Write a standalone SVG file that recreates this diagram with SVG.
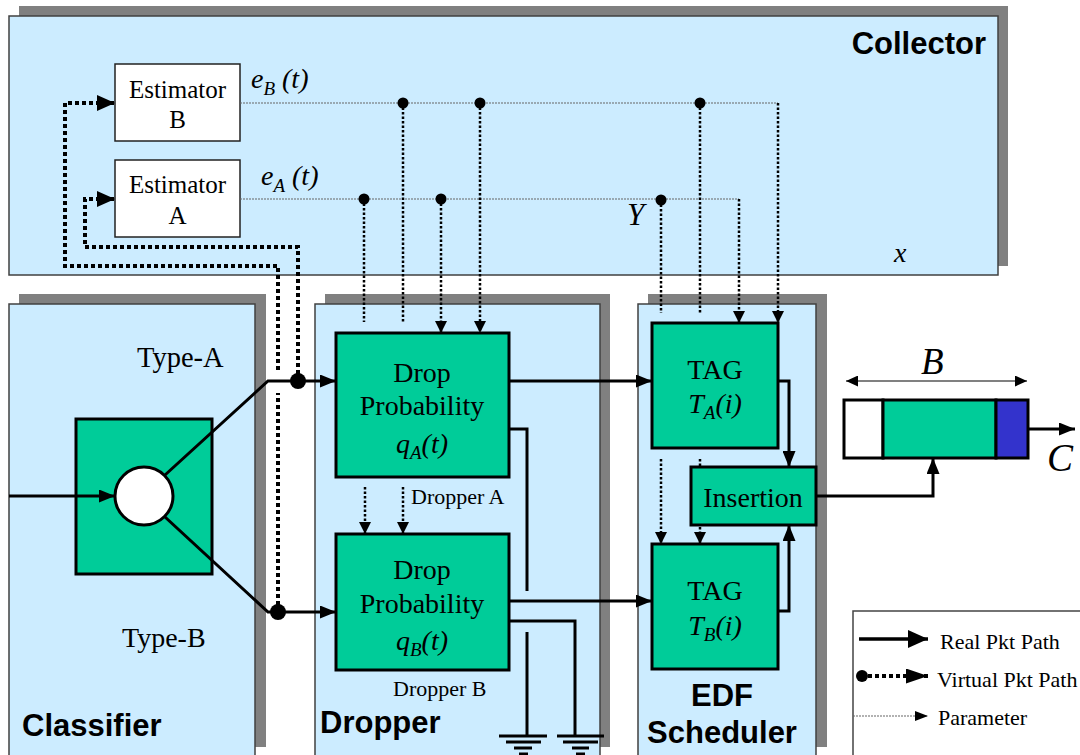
<svg xmlns="http://www.w3.org/2000/svg" width="1080" height="755" viewBox="0 0 1080 755">
<defs>
<style>
.shadow{fill:#808080}
.panel{fill:#CCECFF;stroke:#404040;stroke-width:1.5}
.green{fill:#00CC99;stroke:#000;stroke-width:3}
.est{fill:#fff;stroke:#222;stroke-width:1.5}
.serif{font-family:"Liberation Serif","Times New Roman",serif;fill:#000}
.it{font-style:italic}
.bold{font-family:"Liberation Sans",Arial,sans-serif;font-weight:bold;font-size:31px;fill:#000}
.real{fill:none;stroke:#000;stroke-width:3}
.virt{fill:none;stroke:#000;stroke-width:4;stroke-dasharray:4 3}
.parh{fill:none;stroke:#666;stroke-width:1.2;stroke-dasharray:2 1}
.parv{fill:none;stroke:#000;stroke-width:2.5;stroke-dasharray:2.5 2}
.gnd{stroke:#000;stroke-width:3}
.dot{fill:#000}
</style>
<marker id="aReal" markerUnits="userSpaceOnUse" markerWidth="16" markerHeight="13" refX="16" refY="6.5" orient="auto"><path d="M0,0 L16,6.5 L0,13 z" fill="#000"/></marker>
<marker id="aVirt" markerUnits="userSpaceOnUse" markerWidth="18" markerHeight="16" refX="18" refY="8" orient="auto"><path d="M0,0 L18,8 L0,16 z" fill="#000"/></marker>
<marker id="aPar" markerUnits="userSpaceOnUse" markerWidth="12" markerHeight="12" refX="12" refY="6" orient="auto"><path d="M0,0 L12,6 L0,12 z" fill="#000"/></marker>
<marker id="aB" markerUnits="userSpaceOnUse" markerWidth="12" markerHeight="11" refX="12" refY="5.5" orient="auto-start-reverse"><path d="M0,0 L12,5.5 L0,11 z" fill="#000"/></marker>
<marker id="aLegR" markerUnits="userSpaceOnUse" markerWidth="20" markerHeight="18" refX="20" refY="9" orient="auto"><path d="M0,0 L20,9 L0,18 z" fill="#000"/></marker>
<marker id="aLegV" markerUnits="userSpaceOnUse" markerWidth="22" markerHeight="15" refX="22" refY="7.5" orient="auto"><path d="M0,0 L22,7.5 L0,15 z" fill="#000"/></marker>
<marker id="aLegP" markerUnits="userSpaceOnUse" markerWidth="13" markerHeight="10" refX="13" refY="5" orient="auto"><path d="M0,0 L13,5 L0,10 z" fill="#000"/></marker>
</defs>
<rect width="1080" height="755" fill="#fff"/>

<g id="collector">
<rect class="shadow" x="19" y="6" width="989" height="260"/>
<rect class="panel" x="9" y="16" width="989" height="259"/>
<text class="bold" x="986" y="54" text-anchor="end">Collector</text>
</g>
<g id="classifier">
<rect class="shadow" x="19" y="294" width="247" height="453"/>
<rect class="panel" x="9" y="304" width="246" height="462"/>
<text class="bold" x="22" y="736">Classifier</text>
</g>
<g id="dropper">
<rect class="shadow" x="325" y="294" width="285" height="453"/>
<rect class="panel" x="315" y="304" width="285" height="462"/>
<text class="bold" x="320" y="733">Dropper</text>
</g>
<g id="edf-scheduler">
<rect class="shadow" x="648" y="294" width="179" height="453"/>
<rect class="panel" x="638" y="304" width="178" height="462"/>
<text class="bold" x="722" y="706" text-anchor="middle">EDF</text>
<text class="bold" x="722" y="743" text-anchor="middle">Scheduler</text>
</g>

<g id="estimator-b">
<rect class="est" x="115" y="64" width="125" height="77"/>
<text class="serif" font-size="25" x="177.5" y="97.5" text-anchor="middle">Estimator</text>
<text class="serif" font-size="25" x="177.5" y="128" text-anchor="middle">B</text>
</g>
<g id="estimator-a">
<rect class="est" x="115" y="160" width="125" height="77"/>
<text class="serif" font-size="25" x="177.5" y="193" text-anchor="middle">Estimator</text>
<text class="serif" font-size="25" x="177.5" y="224" text-anchor="middle">A</text>
</g>

<g id="classifier-switch">
<rect class="green" x="76" y="419" width="136" height="155"/>
<circle cx="144" cy="496" r="29" fill="#fff" stroke="#000" stroke-width="3"/>
</g>

<g id="drop-a">
<rect class="green" x="336" y="333" width="173" height="144"/>
<text class="serif" font-size="28" x="422" y="382" text-anchor="middle">Drop</text>
<text class="serif" font-size="28" x="422" y="415" text-anchor="middle">Probability</text>
<text class="serif it" font-size="28" x="422" y="453" text-anchor="middle">q<tspan font-size="19" dy="6">A</tspan><tspan dy="-6">(t)</tspan></text>
</g>
<g id="drop-b">
<rect class="green" x="336" y="534" width="173" height="136"/>
<text class="serif" font-size="28" x="422" y="579" text-anchor="middle">Drop</text>
<text class="serif" font-size="28" x="422" y="613" text-anchor="middle">Probability</text>
<text class="serif it" font-size="28" x="422" y="650" text-anchor="middle">q<tspan font-size="19" dy="6">B</tspan><tspan dy="-6">(t)</tspan></text>
</g>
<g id="tag-a">
<rect class="green" x="652" y="323" width="126" height="125"/>
<text class="serif" font-size="28" x="715" y="379" text-anchor="middle">TAG</text>
<text class="serif it" font-size="28" x="715" y="413" text-anchor="middle">T<tspan font-size="19" dy="6">A</tspan><tspan dy="-6">(i)</tspan></text>
</g>
<g id="insertion">
<rect class="green" x="691" y="467" width="125" height="58"/>
<text class="serif" font-size="28" x="753" y="507" text-anchor="middle">Insertion</text>
</g>
<g id="tag-b">
<rect class="green" x="652" y="544" width="126" height="125"/>
<text class="serif" font-size="28" x="715" y="600" text-anchor="middle">TAG</text>
<text class="serif it" font-size="28" x="715" y="635" text-anchor="middle">T<tspan font-size="19" dy="6">B</tspan><tspan dy="-6">(i)</tspan></text>
</g>
<g id="queue">
<rect x="844" y="400" width="39" height="58" fill="#fff" stroke="#000" stroke-width="3"/>
<rect x="883" y="400" width="113" height="58" fill="#00CC99" stroke="#000" stroke-width="3"/>
<rect x="996" y="400" width="32" height="58" fill="#3333CC" stroke="#000" stroke-width="3"/>
</g>

<g id="labels">
<text class="serif" font-size="28.5" x="137" y="367">Type-A</text>
<text class="serif" font-size="28" x="122" y="647">Type-B</text>
<text class="serif" font-size="22" x="411" y="504">Dropper A</text>
<text class="serif" font-size="22" x="393" y="696">Dropper B</text>
<text class="serif it" font-size="28" x="251" y="88">e<tspan font-size="19" dy="7">B</tspan><tspan dy="-7"> (t)</tspan></text>
<text class="serif it" font-size="28" x="261" y="185">e<tspan font-size="19" dy="7">A</tspan><tspan dy="-7"> (t)</tspan></text>
<text class="serif it" font-size="31" x="627" y="225">Y</text>
<text class="serif it" font-size="28" x="894" y="262">x</text>
<text class="serif it" font-size="37" x="921" y="374">B</text>
<text class="serif it" font-size="39" x="1047" y="471">C</text>
</g>

<g id="connectors">
<path class="real" d="M9,496 H115" marker-end="url(#aReal)"/>
<path class="real" d="M165,475 L268,381 H336" marker-end="url(#aReal)"/>
<path class="real" d="M165,517 L268,612 H336" marker-end="url(#aReal)"/>
<path class="real" d="M509,381 H652" marker-end="url(#aReal)"/>
<path class="real" d="M509,601 H652" marker-end="url(#aReal)"/>
<path class="real" d="M509,429 H527 V591"/>
<path class="real" d="M527,632 V736"/>
<path class="real" d="M509,621 H575 V736"/>
<path class="real" d="M778,381 H789 V467" marker-end="url(#aReal)"/>
<path class="real" d="M778,611 H789 V525" marker-end="url(#aReal)"/>
<path class="real" d="M816,496 H933 V458" marker-end="url(#aReal)"/>
<path class="real" d="M1028,429 H1075" marker-end="url(#aReal)"/>
<path class="gnd" d="M499,736 H547 M506,742 H541 M514,748 H532 M519,754 H528"/>
<path class="gnd" d="M557,736 H604 M563,742 H598 M572,748 H589 M576,754 H585"/>
<path d="M846,381 H1027" stroke="#808080" stroke-width="2" fill="none" marker-start="url(#aB)" marker-end="url(#aB)"/>
<path class="virt" d="M298,381 V247 H85 V199 H115" marker-end="url(#aVirt)"/>
<path class="virt" d="M278,612 V393"/>
<path class="virt" d="M278,370 V266 H65 V103 H115" marker-end="url(#aVirt)"/>
<circle class="dot" cx="298" cy="381" r="8"/>
<circle class="dot" cx="278" cy="612" r="8"/>
<path class="parh" d="M240,103 H778"/>
<path class="parh" d="M240,199 H739"/>
<path class="parv" d="M778,103 V323" marker-end="url(#aPar)"/>
<path class="parv" d="M739,199 V323" marker-end="url(#aPar)"/>
<path class="parv" d="M364,199 V322"/>
<path class="parv" d="M403,103 V322"/>
<path class="parv" d="M441,199 V333" marker-end="url(#aPar)"/>
<path class="parv" d="M480,103 V333" marker-end="url(#aPar)"/>
<path class="parv" d="M661,200 V313"/>
<path class="parv" d="M700,103 V313"/>
<path class="parv" d="M365,487 V534" marker-end="url(#aPar)"/>
<path class="parv" d="M403,487 V534" marker-end="url(#aPar)"/>
<path class="parv" d="M661,459 V544" marker-end="url(#aPar)"/>
<path class="parv" d="M700,459 V467"/>
<path class="parv" d="M700,527 V544" marker-end="url(#aPar)"/>
<circle class="dot" cx="364" cy="199" r="5.5"/>
<circle class="dot" cx="441" cy="199" r="5.5"/>
<circle class="dot" cx="661" cy="200" r="5.5"/>
<circle class="dot" cx="403" cy="103" r="5.5"/>
<circle class="dot" cx="480" cy="103" r="5.5"/>
<circle class="dot" cx="700" cy="103" r="5.5"/>
</g>

<g id="legend">
<rect x="853" y="611" width="240" height="160" fill="#fff" stroke="#444" stroke-width="1.5"/>
<path d="M859,639 H928" stroke="#000" stroke-width="3.5" fill="none" marker-end="url(#aLegR)"/>
<circle class="dot" cx="862" cy="676" r="6"/>
<path class="virt" d="M868,676 H928" marker-end="url(#aLegV)"/>
<path class="parh" d="M853,716 H928" marker-end="url(#aLegP)"/>
<text class="serif" font-size="22" x="940" y="649">Real Pkt Path</text>
<text class="serif" font-size="22" x="937" y="687">Virtual Pkt Path</text>
<text class="serif" font-size="22" x="938" y="725">Parameter</text>
</g>
</svg>
